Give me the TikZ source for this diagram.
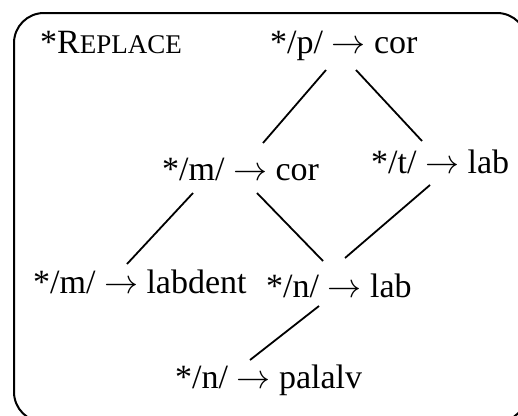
\RequirePackage{fix-cm}
\documentclass[tikz,border=0pt]{standalone}
\usepackage{fontspec}
\setmainfont{Liberation Serif}
\begin{document}
\begin{tikzpicture}[x=1pt,y=-1pt,
  lbl/.style={inner sep=0pt, anchor=base west, font=\fontsize{34}{40}\selectfont},
  conn/.style={line width=1.8pt, line cap=butt}]
\useasboundingbox (0,0) rectangle (518,415);
\begin{scope}
\clip (0,0) rectangle (518,415);
\draw[line width=2pt, rounded corners=30pt] (14,13) rectangle (527,422);
\end{scope}
\node[lbl] (rep) at (40,53) {*R{\fontsize{27}{30}\selectfont EPLACE}};
\node[lbl] (p) at (270,53) {*/p/ $\rightarrow$ cor};
\node[lbl] (m) at (162,180) {*/m/ $\rightarrow$ cor};
\node[lbl] (t) at (371,173) {*/t/ $\rightarrow$ lab};
\node[lbl] (ld) at (33,293) {*/m/ $\rightarrow$ labdent};
\node[lbl] (n) at (266,297) {*/n/ $\rightarrow$ lab};
\node[lbl] (pa) at (175,388) {*/n/ $\rightarrow$ palalv};
\draw[conn] ([shift={(56,17)}]p.base west) -- ([shift={(101,-37)}]m.base west);
\draw[conn] ([shift={(86,17)}]p.base west) -- ([shift={(51,-32)}]t.base west);
\draw[conn] ([shift={(59,12)}]t.base west) -- ([shift={(79,-39)}]n.base west);
\draw[conn] ([shift={(95,13)}]m.base west) -- ([shift={(57,-36)}]n.base west);
\draw[conn] ([shift={(31,13)}]m.base west) -- ([shift={(94,-29)}]ld.base west);
\draw[conn] ([shift={(53,9)}]n.base west) -- ([shift={(75,-28)}]pa.base west);
\end{tikzpicture}
\end{document}
